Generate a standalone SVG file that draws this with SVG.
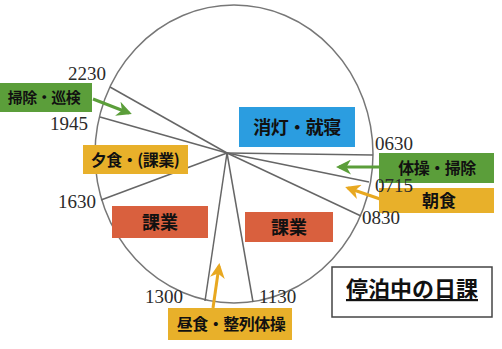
<svg xmlns="http://www.w3.org/2000/svg" width="502" height="349" viewBox="0 0 502 349">
<style>
.num{font-family:"Liberation Serif",serif;font-size:19px;fill:#2a2a2a}
.jp{font-family:"Noto Sans CJK JP",sans-serif;font-weight:bold;fill:#111;text-anchor:middle}
.g{fill:#5b9e3a}.y{fill:#e8b02a}.r{fill:#d9603e}.b{fill:#2b9de0}
.ln{stroke:#666;stroke-width:1.5;fill:none}
.ga{stroke:#5b9e3a;stroke-width:3;fill:none;marker-end:url(#ag)}
.ya{stroke:#e8a820;stroke-width:3;fill:none;marker-end:url(#ay)}
</style>
<defs>
<marker id="ag" viewBox="0 0 10 10" refX="8" refY="5" markerWidth="5" markerHeight="5" orient="auto" markerUnits="strokeWidth"><path d="M0,0 L10,5 L0,10 L3,5 Z" fill="#5b9e3a"/></marker>
<marker id="ay" viewBox="0 0 10 10" refX="8" refY="5" markerWidth="5" markerHeight="5" orient="auto" markerUnits="strokeWidth"><path d="M0,0 L10,5 L0,10 L3,5 Z" fill="#e8a820"/></marker>
</defs>
<rect width="502" height="349" fill="#fff"/>
<g id="clock">
<ellipse cx="234" cy="154" rx="139" ry="149" fill="none" stroke="#777" stroke-width="1.5"/>
</g>
<g id="connectors">
<line class="ln" x1="227" y1="153" x2="110" y2="87"/>
<line class="ln" x1="227" y1="153" x2="100" y2="117"/>
<line class="ln" x1="227" y1="153" x2="101" y2="200"/>
<line class="ln" x1="227" y1="153" x2="205" y2="301"/>
<line class="ln" x1="227" y1="153" x2="253" y2="302"/>
<line class="ln" x1="227" y1="153" x2="361" y2="216"/>
<line class="ln" x1="227" y1="153" x2="369" y2="182"/>
<line class="ln" x1="227" y1="153" x2="373" y2="155"/>
<line class="ga" x1="93" y1="99" x2="129" y2="113"/>
<line class="ga" x1="379" y1="167" x2="339" y2="167"/>
<line class="ya" x1="380" y1="199" x2="348" y2="188"/>
<line class="ya" x1="213" y1="308" x2="219" y2="266"/>
</g>
<g id="n-sojijunken"><rect class="g" x="0" y="83" width="92" height="29"/><text class="jp" x="44" y="103" font-size="15" letter-spacing="-0.5">掃除・巡検</text></g>
<g id="n-yushoku"><rect class="y" x="83" y="145" width="105" height="29"/><text class="jp" x="135" y="166" font-size="16" letter-spacing="-0.5">夕食・(課業)</text></g>
<g id="n-kagyo1"><rect class="r" x="112" y="206" width="96" height="32"/><text class="jp" x="160" y="229" font-size="18">課業</text></g>
<g id="n-kagyo2"><rect class="r" x="245" y="212" width="88" height="30"/><text class="jp" x="289" y="234" font-size="18">課業</text></g>
<g id="n-shoto"><rect class="b" x="239" y="107" width="116" height="40"/><text class="jp" x="297" y="134" font-size="18" letter-spacing="-0.5">消灯・就寝</text></g>
<g id="n-taiso"><rect class="g" x="379" y="153" width="115" height="30"/><text class="jp" x="437" y="174" font-size="16" letter-spacing="-0.5">体操・掃除</text></g>
<g id="n-choshoku"><rect class="y" x="379" y="188" width="115" height="25"/><text class="jp" x="439" y="207" font-size="17">朝食</text></g>
<g id="n-chushoku"><rect class="y" x="168" y="308" width="124" height="32"/><text class="jp" x="231" y="330" font-size="16" letter-spacing="-0.5">昼食・整列体操</text></g>
<g id="n-title"><rect x="332" y="267" width="160" height="50" fill="#fff" stroke="#444" stroke-width="1.5"/><text class="jp" x="412" y="297" font-size="22" text-decoration="underline">停泊中の日課</text></g>
<g id="times">
<text class="num" x="68" y="80">2230</text>
<text class="num" x="50" y="130">1945</text>
<text class="num" x="58" y="208">1630</text>
<text class="num" x="145" y="303">1300</text>
<text class="num" x="259" y="303">1130</text>
<text class="num" x="375" y="150">0630</text>
<text class="num" x="375" y="192">0715</text>
<text class="num" x="362" y="224">0830</text>
</g>
</svg>
